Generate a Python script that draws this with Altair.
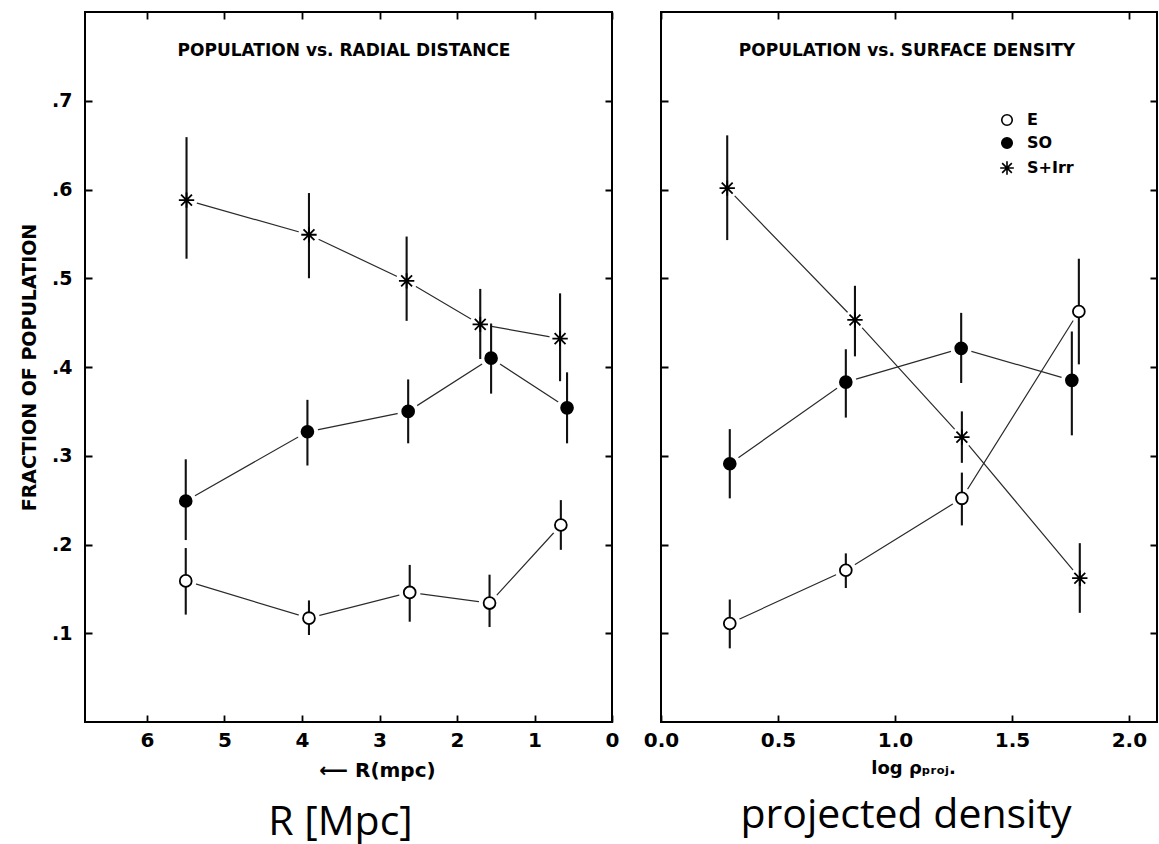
import altair as alt
import pandas as pd

series_names = ["E", "SO", "S+Irr"]

# ---- Left panel: population vs radial distance R (Mpc) ----
r_E_x = [5.50, 3.91, 2.61, 1.58, 0.66]
r_E_y = [0.159, 0.117, 0.146, 0.134, 0.222]
r_E_lo = [0.121, 0.098, 0.113, 0.107, 0.194]
r_E_hi = [0.196, 0.137, 0.177, 0.166, 0.250]

r_S0_x = [5.50, 3.93, 2.63, 1.56, 0.58]
r_S0_y = [0.249, 0.327, 0.350, 0.410, 0.354]
r_S0_lo = [0.205, 0.289, 0.314, 0.370, 0.314]
r_S0_hi = [0.296, 0.363, 0.386, 0.449, 0.394]

r_SI_x = [5.49, 3.91, 2.65, 1.70, 0.67]
r_SI_y = [0.588, 0.549, 0.497, 0.448, 0.432]
r_SI_lo = [0.522, 0.500, 0.452, 0.409, 0.384]
r_SI_hi = [0.659, 0.596, 0.547, 0.488, 0.483]

# ---- Right panel: population vs projected surface density ----
d_E_x = [0.294, 0.790, 1.286, 1.786]
d_E_y = [0.111, 0.171, 0.252, 0.4625]
d_E_lo = [0.083, 0.151, 0.2215, 0.403]
d_E_hi = [0.138, 0.190, 0.281, 0.522]

d_S0_x = [0.294, 0.790, 1.283, 1.756]
d_S0_y = [0.291, 0.383, 0.421, 0.385]
d_S0_lo = [0.252, 0.343, 0.382, 0.323]
d_S0_hi = [0.330, 0.420, 0.461, 0.440]

d_SI_x = [0.283, 0.829, 1.286, 1.790]
d_SI_y = [0.6015, 0.453, 0.321, 0.162]
d_SI_lo = [0.543, 0.412, 0.292, 0.123]
d_SI_hi = [0.661, 0.4915, 0.350, 0.2015]

y_ticks = [0.1, 0.2, 0.3, 0.4, 0.5, 0.6, 0.7]
r_ticks = [0, 1, 2, 3, 4, 5, 6]
d_ticks = [0.0, 0.5, 1.0, 1.5, 2.0]

left_title = "POPULATION  vs.  RADIAL  DISTANCE"
right_title = "POPULATION  vs.  SURFACE  DENSITY"


def frame(groups):
    rows = []
    for name, xs, ys, los, his in groups:
        for i, (x, y, lo, hi) in enumerate(zip(xs, ys, los, his)):
            rows.append({"series": name, "x": x, "y": y, "lo": lo, "hi": hi, "idx": i})
    return pd.DataFrame(rows)


left_df = frame([
    ("E", r_E_x, r_E_y, r_E_lo, r_E_hi),
    ("SO", r_S0_x, r_S0_y, r_S0_lo, r_S0_hi),
    ("S+Irr", r_SI_x, r_SI_y, r_SI_lo, r_SI_hi),
])
right_df = frame([
    ("E", d_E_x, d_E_y, d_E_lo, d_E_hi),
    ("SO", d_S0_x, d_S0_y, d_S0_lo, d_S0_hi),
    ("S+Irr", d_SI_x, d_SI_y, d_SI_lo, d_SI_hi),
])

FONT = "DejaVu Sans"
LW, RW, H = 527, 496, 710
STAR = ("M-1.3,0L1.3,0M0,-1.3L0,1.3M-0.92,-0.92L0.92,0.92"
        "M-0.92,0.92L0.92,-0.92")

y_scale = alt.Scale(domain=[0, 0.8], nice=False, zero=False)


def y_axis(width, labels):
    kw = dict(
        values=y_ticks, domain=False, ticks=False, tickSize=0,
        grid=True, gridDash=[7, width - 14, 7, 4000], gridColor="black",
        gridWidth=1.8, gridOpacity=1,
    )
    if labels:
        kw.update(
            labelExpr="replace(format(datum.value, '.1f'), '0.', '.')",
            labelFont=FONT, labelFontWeight="bold", labelFontSize=19,
            labelColor="black", labelPadding=13,
            title="FRACTION OF POPULATION", titleFont=FONT,
            titleFontWeight="bold", titleFontSize=19, titleColor="black",
            titlePadding=12,
        )
    else:
        kw.update(labels=False, title=None, minExtent=0)
    return alt.Axis(**kw)


def x_axis(values, fmt, title, title_size, title_pad, title_x):
    return alt.Axis(
        values=values, format=fmt, domain=False, ticks=False, tickSize=0,
        grid=True, gridDash=[7, H - 14, 7, 4000], gridColor="black",
        gridWidth=1.8, gridOpacity=1, labelFlush=False, labelOverlap=False,
        labelFont=FONT, labelFontWeight="bold", labelFontSize=20,
        labelColor="black", labelPadding=8,
        title=title, titleFont=FONT, titleFontWeight="bold",
        titleFontSize=title_size, titleColor="black", titlePadding=title_pad,
        titleX=title_x, titleAlign="center",
    )


def panel(df, xs, xa, ya, width, head, head_x, show_legend, bottom, bdx, boff):
    X = alt.X("x:Q", scale=xs, axis=xa)
    Y = alt.Y("y:Q", scale=y_scale, axis=ya)
    base = alt.Chart(df)
    # one plain line per series (no grouping), so halos can sit on top
    lines = [
        base.transform_filter(alt.datum.series == s).mark_line(
            color="#2a2a2a", strokeWidth=1.2).encode(x=X, y=Y, order="idx:Q")
        for s in series_names
    ]
    halo = base.mark_circle(color="#ffffff", fill="#ffffff", opacity=1,
                            fillOpacity=1, size=460).encode(x=X, y=Y)
    err = base.mark_rule(color="#111111", strokeWidth=2.1).encode(
        x=X, y=alt.Y("lo:Q", scale=y_scale, axis=ya), y2="hi:Q")
    if show_legend:
        leg = alt.Legend(
            title=None, orient="none", legendX=338, legendY=100,
            labelFont=FONT, labelFontWeight="bold", labelFontSize=16,
            labelColor="black", symbolSize=110, symbolStrokeColor="black",
            symbolStrokeWidth=1.6, rowPadding=5, labelOffset=12, padding=0,
        )
    else:
        leg = None
    pts = base.mark_point(filled=True, strokeWidth=1.8, opacity=1,
                          size=140).encode(
        x=X, y=Y,
        shape=alt.Shape("series:N", scale=alt.Scale(
            domain=series_names, range=["circle", "circle", STAR]),
            legend=leg),
        fill=alt.Fill("series:N", scale=alt.Scale(
            domain=series_names, range=["white", "black", "black"]),
            legend=leg),
        stroke=alt.Stroke("series:N", scale=alt.Scale(
            domain=series_names, range=["black", "black", "black"]),
            legend=leg),
    )
    head_txt = alt.Chart(pd.DataFrame({"t": [head]})).mark_text(
        font=FONT, fontSize=17, fontWeight="bold", color="black",
        align="center", baseline="middle",
    ).encode(text="t:N", x=alt.value(head_x), y=alt.value(39))
    return alt.layer(*lines, halo, err, pts, head_txt).properties(
        width=width, height=H,
        title=alt.TitleParams(bottom, orient="bottom", anchor="middle",
                              font="Comic Sans MS, Open Sans", fontSize=41,
                              fontWeight="normal", color="black", dx=bdx,
                              offset=boff),
    )


left = panel(
    left_df,
    alt.Scale(domain=[0, 6.8], reverse=True, nice=False, zero=False),
    x_axis(r_ticks, "d", "⟵ R(mpc)", 20, 10, 292),
    y_axis(LW, True), LW, left_title, 259, False, "R [Mpc]", -8, 23,
)
right = panel(
    right_df,
    alt.Scale(domain=[0, 2.12], nice=False, zero=False),
    x_axis(d_ticks, ".1f", "log ρₚᵣₒⱼ.", 18, 9, 252),
    y_axis(RW, False), RW, right_title, 246, True, "projected density", -3, 19,
)

chart = alt.HConcatChart(
    hconcat=[left, right], spacing=49, bounds="flush",
    padding={"left": 19, "top": 11, "right": 1, "bottom": 0},
    background="white",
).resolve_scale(
    shape="independent", fill="independent", stroke="independent"
).resolve_legend(
    shape="independent", fill="independent", stroke="independent"
).configure_view(stroke="black", strokeWidth=2)

chart.save("out.html", embed_options={"renderer": "svg", "actions": False})
